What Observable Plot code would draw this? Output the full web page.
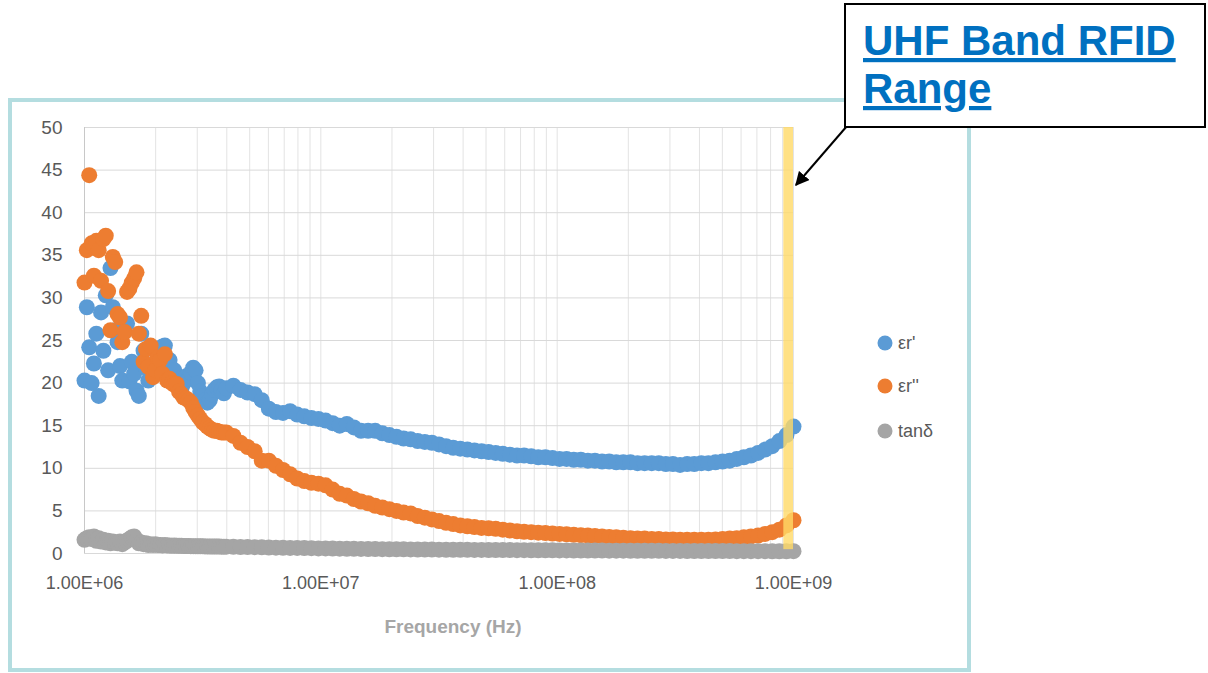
<!DOCTYPE html>
<html><head><meta charset="utf-8">
<script src="https://cdn.jsdelivr.net/npm/d3@7"></script>
<script src="https://cdn.jsdelivr.net/npm/@observablehq/plot@0.6"></script>
<style>
body{margin:0;background:#fff;}
#chart{position:relative;width:1208px;height:673px;}
</style>
</head><body><div id="chart"></div>
<script>
// ---- data ----
const freqMHz = [
 1.000,1.023,1.047,1.072,1.096,1.122,1.148,1.175,1.202,1.230,
 1.259,1.288,1.318,1.349,1.380,1.413,1.445,1.479,1.514,1.549,
 1.585,1.622,1.660,1.698,1.738,1.778,1.820,1.862,1.905,1.950,
 1.995,2.042,2.089,2.138,2.188,2.239,2.291,2.344,2.399,2.455,
 2.512,2.570,2.630,2.692,2.754,2.818,2.884,2.951,3.020,3.090,
 3.162,3.236,3.311,3.388,3.467,3.548,3.631,3.715,3.802,3.890,
 3.981,
 4.266,4.571,4.898,5.248,5.623,6.026,6.457,6.918,7.413,7.943,
 8.511,9.120,9.772,10.47,11.22,12.02,12.88,13.80,14.79,15.85,
 16.98,18.20,19.50,20.89,22.39,23.99,25.70,27.54,29.51,31.62,
 33.88,36.31,38.90,41.69,44.67,47.86,51.29,54.95,58.88,63.10,
 67.61,72.44,77.62,83.18,89.13,95.50,102.3,109.6,117.5,125.9,
 134.9,144.5,154.9,166.0,177.8,190.5,204.2,218.8,234.4,251.2,
 269.2,288.4,309.0,331.1,354.8,380.2,407.4,436.5,467.7,501.2,
 537.0,575.4,616.6,660.7,707.9,758.6,812.8,871.0,933.3,1000
];
const erReal = [
 20.3,28.9,24.2,20.0,22.3,25.8,18.5,28.3,23.8,30.3,
 21.5,33.5,28.9,26.2,24.8,22.0,20.3,26.6,27.0,20.2,
 22.5,21.1,19.1,18.5,25.8,23.8,21.8,20.3,21.0,22.0,
 21.7,23.0,23.5,24.3,24.4,22.4,22.7,21.0,21.5,20.0,
 20.5,19.3,20.0,20.8,20.5,21.2,21.8,21.5,20.0,19.0,
 18.5,18.0,17.7,18.0,18.7,19.2,19.5,19.6,19.2,18.8,
 19.4,
 19.7,19.2,18.9,18.7,18.0,17.0,16.6,16.5,16.7,16.3,
 16.1,15.9,15.8,15.6,15.3,15.0,15.2,14.8,14.4,14.4,
 14.4,14.1,13.9,13.7,13.5,13.4,13.2,13.1,13.0,12.8,
 12.6,12.4,12.3,12.2,12.1,12.0,11.9,11.8,11.7,11.6,
 11.5,11.5,11.4,11.3,11.3,11.2,11.1,11.1,11.0,11.0,
 10.9,10.9,10.8,10.8,10.7,10.7,10.7,10.6,10.6,10.6,
 10.6,10.5,10.5,10.4,10.5,10.5,10.6,10.6,10.7,10.8,
 10.9,11.1,11.3,11.5,11.8,12.2,12.6,13.2,13.9,14.9
];
const erImag = [
 31.8,35.6,44.4,36.4,32.6,36.7,35.6,32.0,36.9,37.3,
 30.8,26.2,34.8,34.2,28.1,27.7,24.8,26.0,30.7,31.1,
 31.8,32.3,33.0,25.8,27.9,22.5,24.0,21.9,24.4,20.7,
 21.5,23.0,22.7,21.1,23.4,20.3,20.5,20.0,19.8,19.9,
 19.0,18.7,18.3,18.2,18.0,17.7,17.1,16.6,16.2,15.8,
 15.4,15.2,14.9,14.7,14.5,14.4,14.4,14.3,14.2,14.2,
 14.2,
 13.8,13.0,12.5,12.0,10.9,10.9,10.3,9.8,9.3,8.8,
 8.5,8.3,8.2,8.0,7.5,7.0,6.8,6.4,6.1,5.9,
 5.6,5.4,5.2,5.0,4.8,4.7,4.4,4.2,4.0,3.8,
 3.6,3.45,3.3,3.2,3.1,3.0,2.95,2.9,2.8,2.7,
 2.6,2.55,2.5,2.45,2.4,2.35,2.3,2.25,2.2,2.15,
 2.1,2.05,2.0,1.95,1.9,1.85,1.8,1.75,1.75,1.7,
 1.7,1.65,1.65,1.6,1.6,1.6,1.6,1.6,1.65,1.7,
 1.75,1.8,1.9,2.0,2.1,2.3,2.5,2.8,3.3,3.9
];
const tanDelta = [
 1.6,1.8,1.9,1.7,2.0,1.5,1.8,1.4,1.6,1.3,
 1.5,1.2,1.4,1.3,1.2,1.4,1.1,1.3,1.5,1.7,
 1.9,2.0,1.6,1.2,1.3,1.1,1.2,1.0,1.1,1.0,
 1.1,1.0,1.0,0.95,1.0,0.95,0.95,0.9,0.95,0.9,
 0.9,0.9,0.88,0.88,0.87,0.86,0.86,0.85,0.85,0.84,
 0.84,0.83,0.83,0.82,0.82,0.82,0.81,0.81,0.8,0.8,
 0.8,
 0.78,0.76,0.75,0.74,0.72,0.7,0.68,0.67,0.66,0.65,
 0.64,0.62,0.6,0.6,0.58,0.57,0.56,0.55,0.54,0.53,
 0.52,0.51,0.5,0.5,0.49,0.48,0.47,0.46,0.46,0.45,
 0.44,0.44,0.43,0.43,0.42,0.42,0.41,0.41,0.4,0.4,
 0.39,0.39,0.38,0.38,0.37,0.37,0.36,0.36,0.35,0.35,
 0.35,0.34,0.34,0.33,0.33,0.33,0.32,0.32,0.31,0.31,
 0.31,0.3,0.3,0.3,0.29,0.29,0.29,0.28,0.28,0.28,
 0.28,0.27,0.27,0.27,0.27,0.27,0.26,0.26,0.26,0.27
];
const seriesNames = ["εr'", "εr''", "tanδ"];
const seriesColors = ["#5B9BD5", "#ED7D31", "#A5A5A5"];
const xTicks = [1e6, 1e7, 1e8, 1e9];
const xTickLabels = ["1.00E+06", "1.00E+07", "1.00E+08", "1.00E+09"];
const yTicks = [0, 5, 10, 15, 20, 25, 30, 35, 40, 45, 50];
const xTitle = "Frequency (Hz)";
const uhfBand = [{x1: 9.1e8, x2: 1e9, y1: 0.45, y2: 50}];
const calloutLines = ["UHF Band RFID", "Range"];

// ---- build ----
const series = [erReal, erImag, tanDelta];
const rows = freqMHz.map((f, i) => ({f: f * 1e6, v: series.map(s => s[i])}));
const minorGrid = [];
for (let d = 6; d < 9; d++) for (let m = 1; m <= 9; m++) minorGrid.push(m * Math.pow(10, d));
minorGrid.push(1e9);

const FONT = "'Liberation Sans', Arial, sans-serif";

const plot = Plot.plot({
  width: 1208, height: 673,
  marginLeft: 84, marginRight: 415, marginTop: 127, marginBottom: 120,
  x: {type: "log", domain: [1e6, 1e9]},
  y: {domain: [0, 50]},
  style: {fontFamily: FONT, fontSize: "18px", color: "#595959", background: "transparent", overflow: "visible"},
  marks: [
    Plot.gridX(minorGrid, {stroke: "#E3E3E3", strokeOpacity: 1}),
    Plot.gridY(yTicks, {stroke: "#D9D9D9", strokeOpacity: 1}),
    Plot.ruleX([1e6], {stroke: "#C8C8C8"}),
    Plot.axisY({ticks: yTicks, tickSize: 0, tickPadding: 22, label: null, fill: "#595959", fontSize: 19}),
    Plot.axisX({ticks: xTicks, tickSize: 0, tickPadding: 23, label: null, fill: "#595959",
      tickFormat: d => xTickLabels[xTicks.indexOf(d)]}),
    ...series.map((s, j) => Plot.dot(rows, {x: "f", y: d => d.v[j], r: 8, fill: seriesColors[j], stroke: "none"})),
    Plot.rect(uhfBand, {x1: "x1", x2: "x2", y1: "y1", y2: "y2", fill: "#FFD966", fillOpacity: 0.8}),
    Plot.text([xTitle], {frameAnchor: "bottom", dy: 79, dx: 14, fontWeight: "bold", fontSize: 19, fill: "#A6A6A6"})
  ]
});

const container = document.getElementById("chart");
container.appendChild(plot);
const svg = d3.select(plot);

// chart-area border (drawn under everything)
svg.insert("rect", ":first-child")
  .attr("x", 10).attr("y", 100).attr("width", 959).attr("height", 570)
  .attr("fill", "none").attr("stroke", "#B4DDE0").attr("stroke-width", 4);

// legend
const lg = svg.append("g").attr("font-family", FONT).attr("font-size", 18)
  .attr("fill", "#595959").attr("text-anchor", "start");
[343, 386, 431].forEach((y, j) => {
  lg.append("circle").attr("cx", 885).attr("cy", y).attr("r", 7.5).attr("fill", seriesColors[j]);
  lg.append("text").attr("x", 898).attr("y", y).attr("dy", "0.35em").text(seriesNames[j]);
});

// callout
const defs = svg.append("defs");
defs.append("marker").attr("id", "arrow").attr("viewBox", "0 0 10 10").attr("refX", 9).attr("refY", 5)
  .attr("markerWidth", 7).attr("markerHeight", 7).attr("orient", "auto-start-reverse")
  .append("path").attr("d", "M0,0L10,5L0,10z").attr("fill", "#000");
svg.append("line").attr("x1", 847).attr("y1", 126).attr("x2", 796).attr("y2", 185)
  .attr("stroke", "#000").attr("stroke-width", 2).attr("marker-end", "url(#arrow)");
svg.append("rect").attr("x", 845).attr("y", 4).attr("width", 360).attr("height", 123)
  .attr("fill", "#fff").attr("stroke", "#000").attr("stroke-width", 2);
const cg = svg.append("g").attr("text-anchor", "start");
calloutLines.forEach((t, i) => {
  cg.append("text").attr("x", 863).attr("y", 55 + i * 48)
    .attr("font-family", FONT).attr("font-weight", "bold").attr("font-size", 42)
    .attr("fill", "#0070C0").style("text-decoration", "underline").text(t);
});
</script>
</body></html>
